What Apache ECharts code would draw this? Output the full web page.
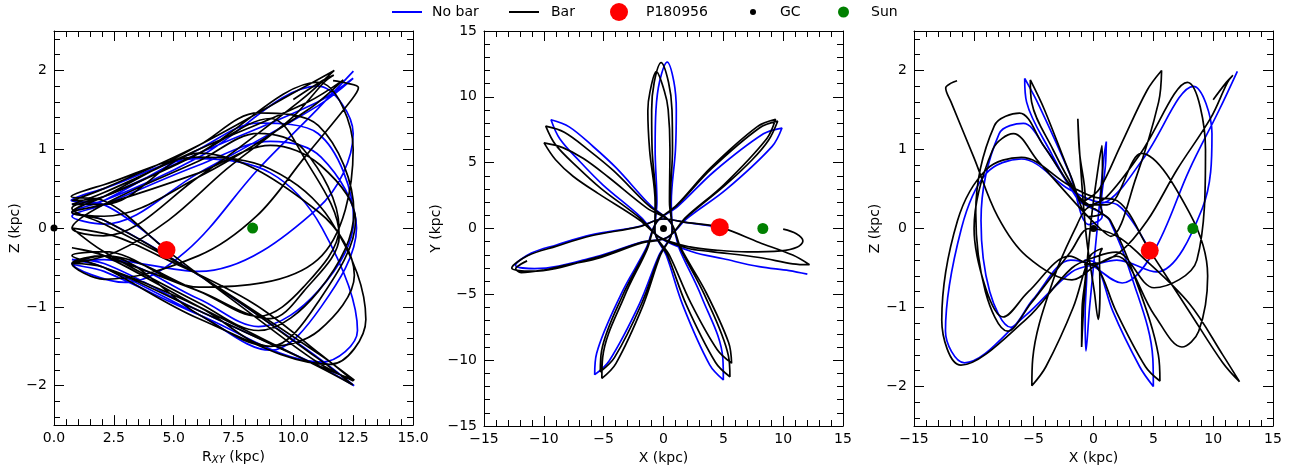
<!DOCTYPE html>
<html><head><meta charset="utf-8">
<script src="https://cdn.jsdelivr.net/npm/echarts@6/dist/echarts.min.js"></script>
<style>html,body{margin:0;padding:0;background:#fff}#c{width:1295px;height:470px}</style>
</head><body><div id="c"></div>
<script>
// ---- Orbit with bar (black): X, Y, Z and cylindrical R (kpc) ----
const barX = [10.0,11.1,11.65,11.2,9.8,7.0,4.5,2.2,-0.24,
 -1.98,-5.44,-7.56,-9.02,-9.98,-8.42,-6.69,-4.62,-1.38,0.55,
 1.45,3.57,5.44,5.69,4.48,2.26,0.49,-0.72,
 -0.70,-1.16,-1.31,-1.13,-0.60,0.07,0.39,0.54,0.50,0.74,
 -0.28,-1.70,-3.98,-5.15,-5.08,-3.25,-1.37,-0.59,
 1.10,3.93,7.84,9.36,8.64,5.06,1.90,0.35,
 -1.81,-5.64,-11.08,-12.68,-11.36,-8.93,-6.03,-2.08,0.0,
 2.0,4.7,8.0,10.8,12.2,10.8,8.0,4.0,2.0,-0.33,
 -1.94,-5.24,-7.17,-9.03,-9.84,-8.29,-6.18,-4.18,-1.20,0.59,
 1.42,3.41,5.42,5.55,4.35,1.89,0.35,-0.73,
 -0.63,-0.95,-0.99,-0.78,-0.20,0.42,0.71,0.75,0.57,0.73,
 -0.33,-1.86,-4.09,-5.28,-5.17,-3.39,-1.41,-0.58,
 1.13,4.01,8.01,9.54,8.79,7.39,5.11,1.91,0.34,
 -1.8,-5.6,-8.0,-10.0,-11.9,-12.35,-11.9,-11.4];
const barY = [-0.05,-0.4,-0.95,-1.4,-1.7,-1.78,-1.65,-1.4,-0.71,
 0.63,2.65,3.97,5.22,6.50,6.14,5.31,3.91,1.55,0.52,
 -1.48,-4.88,-8.66,-10.23,-9.19,-5.61,-2.02,-0.20,
 1.97,5.95,8.95,10.38,11.91,10.44,9.03,6.04,2.03,-0.14,
 -2.07,-5.82,-10.26,-11.38,-9.77,-5.12,-1.58,0.46,
 1.78,4.61,7.74,8.29,6.84,3.34,0.88,-0.66,
 -1.04,-2.21,-3.24,-3.00,-2.07,-1.34,-0.55,0.12,0.72,
 0.45,0.1,-1.06,-2.02,-2.75,-2.68,-2.2,-1.75,-1.5,-0.67,
 0.77,3.05,4.64,6.37,7.77,7.31,5.90,4.39,1.71,0.47,
 -1.53,-5.01,-9.65,-11.26,-10.18,-5.76,-2.06,-0.17,
 1.99,5.99,8.99,11.09,12.60,11.11,9.01,6.01,2.01,-0.16,
 -2.06,-5.77,-9.79,-10.88,-9.27,-5.03,-1.54,0.48,
 1.75,4.54,7.63,8.15,6.72,5.20,3.25,0.84,-0.67,
 -1.1,-2.3,-2.75,-3.15,-3.35,-3.05,-2.7,-2.46];
const barZ = [1.63,1.85,1.94,1.85,1.4,0.75,0.1,-0.3,-0.45,
 -0.35,-0.8,-1.12,-0.75,0.0,1.0,1.2,0.85,0.3,0.0,
 -0.1,0.65,1.6,2.0,1.75,1.05,0.5,0.35,
 0.4,0.95,1.39,0.9,-0.1,-0.8,-1.15,-0.8,-0.35,-0.25,
 -0.35,-1.0,-1.75,-1.99,-1.65,-0.6,0.05,0.25,
 0.4,0.95,1.85,1.0,-0.4,-0.75,-0.3,-0.35,
 -0.5,-1.15,-1.73,-1.16,0.1,0.75,0.9,0.55,0.4,
 0.35,-0.28,-1.05,-1.7,-1.94,-1.6,-0.95,-0.35,-0.1,0.0,
 -0.3,-0.95,-1.3,-0.8,0.2,1.3,1.46,1.05,0.4,0.2,
 0.1,-0.6,-1.6,-1.93,-1.75,-1.05,-0.5,-0.45,
 -0.5,-1.0,-1.5,-0.9,0.1,0.8,1.05,0.7,0.3,0.2,
 0.15,0.65,1.5,1.88,1.6,1.0,0.45,0.3,
 0.3,0.95,0.2,-0.6,-1.3,-1.5,-1.1,-0.35,-0.45,
 -0.65,-0.35,0.15,0.9,1.6,1.78,1.84,1.87];
const barR = [10.0,11.11,11.69,11.29,9.95,7.22,4.79,2.61,0.75,
 2.08,6.05,8.54,10.42,11.91,10.42,8.54,6.05,2.08,0.75,
 2.07,6.05,10.23,11.71,10.22,6.05,2.08,0.75,
 2.09,6.06,9.05,10.44,11.92,10.44,9.04,6.06,2.09,0.75,
 2.09,6.06,11.0,12.49,11.01,6.06,2.09,0.75,
 2.09,6.06,11.02,12.5,11.02,6.06,2.09,0.75,
 2.09,6.06,11.54,13.03,11.55,9.03,6.06,2.08,0.72,
 2.05,4.70,8.07,10.99,12.51,11.13,8.30,4.37,2.5,0.75,
 2.09,6.06,8.54,11.05,12.53,11.05,8.54,6.06,2.09,0.75,
 2.09,6.06,11.07,12.55,11.07,6.06,2.09,0.75,
 2.09,6.06,9.04,11.12,12.6,11.12,9.04,6.06,2.09,0.75,
 2.09,6.06,10.61,12.09,10.61,6.06,2.09,0.75,
 2.09,6.06,11.07,12.55,11.07,9.04,6.06,2.09,0.75,
 2.11,6.05,8.46,10.48,12.36,12.72,12.2,11.66];

// ---- Orbit without bar (blue) ----
const noBarX = [12.02,10.5,8.0,5.0,2.4,-0.36,
 -1.90,-5.07,-6.91,-8.67,-9.40,-7.88,-5.86,-3.95,-1.11,0.61,
 1.35,3.17,4.96,5.00,3.86,1.62,0.25,-0.74,
 -0.55,-0.70,-0.63,-0.33,0.31,0.87,1.07,1.00,0.65,0.72,
 -0.39,-2.01,-4.53,-5.75,-5.59,-3.52,-1.45,-0.57,
 1.22,4.23,8.35,9.90,9.08,5.27,1.95,0.31,
 -1.82,-5.67,-10.78,-12.37,-11.04,-8.95,-6.04,-2.08,0.0,2.0,4.7];
const noBarY = [-3.47,-3.2,-2.9,-2.3,-1.77,-0.66,
 0.87,3.32,5.01,6.82,8.26,7.72,6.21,4.60,1.77,0.43,
 -1.60,-5.16,-9.89,-11.50,-10.36,-5.84,-2.07,-0.13,
 2.01,6.02,9.02,11.15,12.64,11.13,8.98,5.98,1.99,-0.19,
 -2.05,-5.72,-10.04,-11.10,-9.49,-4.94,-1.50,0.49,
 1.70,4.33,7.19,7.63,6.24,2.99,0.75,-0.68,
 -1.03,-2.15,-3.05,-2.79,-1.87,-1.25,-0.49,0.15,0.72,0.45,0.1];
const noBarZ = [1.99,1.5,0.74,-0.3,-0.69,-0.45,
 -0.4,-0.9,-1.25,-0.8,0.1,1.2,1.33,1.0,0.35,0.2,
 0.1,-0.6,-1.65,-2.0,-1.75,-1.05,-0.45,-0.4,
 -0.5,-1.1,-1.55,-1.0,0.0,0.9,1.1,0.8,0.3,0.15,
 0.05,0.7,1.55,1.9,1.6,0.95,0.4,0.3,
 0.35,0.9,1.8,1.2,0.25,-0.55,-0.4,-0.45,
 -0.55,-1.1,-1.7,-1.3,0.0,0.7,0.88,0.5,0.35,0.3,-0.28];
const noBarR = [12.51,10.98,8.51,5.5,2.98,0.75,
 2.09,6.06,8.54,11.03,12.52,11.03,8.54,6.06,2.09,0.75,
 2.09,6.06,11.06,12.54,11.06,6.06,2.09,0.75,
 2.09,6.06,9.04,11.16,12.64,11.16,9.04,6.06,2.09,0.75,
 2.09,6.06,11.02,12.5,11.02,6.06,2.09,0.75,
 2.09,6.06,11.02,12.5,11.02,6.06,2.09,0.75,
 2.09,6.06,11.2,12.68,11.2,9.04,6.06,2.09,0.72,2.05,4.7];

// ---- Markers: [X, Y, Z, R] ----
const starPos = [4.7, 0.1, -0.28, 4.7];
const gcPos = [0, 0, 0, 0];
const sunPos = [8.3, 0, 0, 8.3];

// ---- Ticks ----
const ticksRMajor = [0,2.5,5,7.5,10,12.5,15];
const ticksRMinor = [0.5,1,1.5,2,3,3.5,4,4.5,5.5,6,6.5,7,8,8.5,9,9.5,10.5,11,11.5,12,13,13.5,14,14.5];
const ticksZMajor = [-2,-1,0,1,2];
const ticksZMinor = [-2.4,-2.2,-1.8,-1.6,-1.4,-1.2,-0.8,-0.6,-0.4,-0.2,0.2,0.4,0.6,0.8,1.2,1.4,1.6,1.8,2.2,2.4];
const ticksXYMajor = [-15,-10,-5,0,5,10,15];
const ticksXYMinor = [-14,-13,-12,-11,-9,-8,-7,-6,-4,-3,-2,-1,1,2,3,4,6,7,8,9,11,12,13,14];

const FONT = 'DejaVu Sans';
const MINUS = '\u2212';
const fmtInt = v => (v < 0 ? MINUS + Math.abs(v) : String(v));
const fmt1 = v => v.toFixed(1);

const gridLefts = [54, 484, 914];
const grids = gridLefts.map(l => ({left: l, top: 31, width: 359, height: 395}));

function axisGroup(dim, gi, min, max, major, minor, fmt, name, nameGap, rich) {
  const sides = dim === 'x' ? ['bottom', 'top'] : ['left', 'right'];
  const lineS = {show: true, onZero: false, lineStyle: {color: '#000', width: 1}};
  const noLine = {show: false, onZero: false};
  const base = {type: 'value', gridIndex: gi, min: min, max: max, splitLine: {show: false}, scale: false};
  const res = [];
  res.push(Object.assign({}, base, {
    position: sides[0], axisLine: lineS,
    axisTick: {show: true, inside: true, length: 10, customValues: major, lineStyle: {color: '#000', width: 1}},
    axisLabel: {show: true, customValues: major, formatter: fmt, fontSize: 14, fontFamily: FONT, color: '#000',
      margin: dim === 'x' ? 6 : 7, showMinLabel: true, showMaxLabel: true},
    name: name, nameLocation: 'middle', nameGap: nameGap,
    nameTextStyle: Object.assign({fontSize: 14, fontFamily: FONT, color: '#000'}, rich ? {rich: rich} : {})
  }));
  res.push(Object.assign({}, base, {
    position: sides[0], axisLine: noLine,
    axisTick: {show: true, inside: true, length: 6, customValues: minor, lineStyle: {color: '#000', width: 1}},
    axisLabel: {show: false}
  }));
  res.push(Object.assign({}, base, {
    position: sides[1], axisLine: lineS,
    axisTick: {show: true, inside: true, length: 10, customValues: major, lineStyle: {color: '#000', width: 1}},
    axisLabel: {show: false}
  }));
  res.push(Object.assign({}, base, {
    position: sides[1], axisLine: noLine,
    axisTick: {show: true, inside: true, length: 6, customValues: minor, lineStyle: {color: '#000', width: 1}},
    axisLabel: {show: false}
  }));
  return res;
}

const rRich = {
  a: {fontSize: 14, fontFamily: FONT, color: '#000'},
  b: {fontSize: 10, fontFamily: FONT, fontStyle: 'italic', color: '#000', verticalAlign: 'bottom', padding: [6, 0, 0, 0]}
};

const xAxes = [].concat(
  axisGroup('x', 0, 0, 15, ticksRMajor, ticksRMinor, fmt1, '{a|R}{b|XY}{a| (kpc)}', 19, rRich),
  axisGroup('x', 1, -15, 15, ticksXYMajor, ticksXYMinor, fmtInt, 'X (kpc)', 20),
  axisGroup('x', 2, -15, 15, ticksXYMajor, ticksXYMinor, fmtInt, 'X (kpc)', 20)
);
const yAxes = [].concat(
  axisGroup('y', 0, -2.5, 2.5, ticksZMajor, ticksZMinor, fmtInt, 'Z (kpc)', 30),
  axisGroup('y', 1, -15, 15, ticksXYMajor, ticksXYMinor, fmtInt, 'Y (kpc)', 38),
  axisGroup('y', 2, -2.5, 2.5, ticksZMajor, ticksZMinor, fmtInt, 'Z (kpc)', 30)
);

const zip = (a, b) => a.map((v, i) => [v, b[i]]);
const panelsData = [
  {nb: zip(noBarR, noBarZ), b: zip(barR, barZ), xi: 3, yi: 2},
  {nb: zip(noBarX, noBarY), b: zip(barX, barY), xi: 0, yi: 1},
  {nb: zip(noBarX, noBarZ), b: zip(barX, barZ), xi: 0, yi: 2}
];

const SMOOTH = 0.35;
const series = [];
panelsData.forEach((p, k) => {
  series.push({name: 'No bar', type: 'line', xAxisIndex: k * 4, yAxisIndex: k * 4, data: p.nb,
    smooth: SMOOTH, symbol: 'none', showSymbol: false, lineStyle: {color: '#0000ff', width: 1.7},
    itemStyle: {color: '#0000ff'}, z: 2, animation: false, clip: true});
});
panelsData.forEach((p, k) => {
  series.push({name: 'Bar', type: 'line', xAxisIndex: k * 4, yAxisIndex: k * 4, data: p.b,
    smooth: SMOOTH, symbol: 'none', showSymbol: false, lineStyle: {color: '#000000', width: 1.7},
    itemStyle: {color: '#000000'}, z: 3, animation: false, clip: true});
});
panelsData.forEach((p, k) => {
  const pick = pos => [pos[p.xi], pos[p.yi]];
  series.push({name: 'P180956', type: 'scatter', xAxisIndex: k * 4, yAxisIndex: k * 4,
    data: [pick(starPos)], symbol: 'circle', symbolSize: 18, itemStyle: {color: '#ff0000', opacity: 1}, z: 5, animation: false});
  series.push({name: 'GC', type: 'scatter', xAxisIndex: k * 4, yAxisIndex: k * 4,
    data: [pick(gcPos)], symbol: 'circle', symbolSize: 7, itemStyle: {color: '#000000', opacity: 1}, z: 5, animation: false});
  series.push({name: 'Sun', type: 'scatter', xAxisIndex: k * 4, yAxisIndex: k * 4,
    data: [pick(sunPos)], symbol: 'circle', symbolSize: 11, itemStyle: {color: '#008000', opacity: 1}, z: 5, animation: false});
});

function legendItem(name, left, top, w, h, pad, icon) {
  return {data: [{name: name, icon: icon}], left: left, top: top, padding: 0, itemWidth: w, itemHeight: h,
    textStyle: {fontSize: 14, fontFamily: FONT, color: '#000', lineHeight: 16, padding: [0, 0, 0, pad]}};
}

const option = {
  backgroundColor: '#ffffff',
  animation: false,
  grid: grids,
  xAxis: xAxes,
  yAxis: yAxes,
  legend: [
    legendItem('No bar', 392, 4, 30, 2, 5, 'rect'),
    legendItem('Bar', 509, 4, 30, 2, 7, 'rect'),
    legendItem('P180956', 610, 3, 18, 18, 13, 'circle'),
    legendItem('GC', 750, 4, 6, 6, 19, 'circle'),
    legendItem('Sun', 838, 4, 11, 11, 17, 'circle')
  ],
  series: series
};

const chart = echarts.init(document.getElementById('c'));
chart.setOption(option);
</script>
</body></html>
